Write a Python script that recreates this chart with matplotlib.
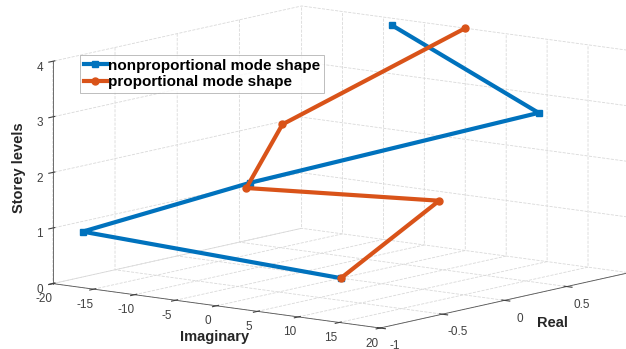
import numpy as np
import matplotlib
matplotlib.use("Agg")
import matplotlib.pyplot as plt

# storey levels (z) and mode shape components
storey = [0, 1, 2, 3, 4]
nonprop_imag = [0, -16.5, -1.5, 15.5, -6.5]
nonprop_real = [0, -0.99, -0.63, 0.57, 0.84]
prop_imag = [0, 0, 0, 0, 0]
prop_real = [0, 0.79, -0.76, -0.47, 1.0]

x_ticks = [-20, -15, -10, -5, 0, 5, 10, 15, 20]
y_ticks = [-1, -0.5, 0, 0.5]
z_ticks = [0, 1, 2, 3, 4]

BLUE = "#0072BD"
ORANGE = "#D95319"


def main():
    plt.rcParams["font.family"] = "Liberation Sans"
    plt.rcParams["grid.linestyle"] = "--"
    plt.rcParams["grid.color"] = "#d9d9d9"
    plt.rcParams["grid.linewidth"] = 0.6

    fig = plt.figure(figsize=(6.26, 3.49), dpi=100)
    ax = fig.add_axes([0.037, 0.008, 1, 1], projection="3d", proj_type="ortho")
    ax.view_init(elev=10, azim=-52)
    ax.set_box_aspect((1.84, 1.79, 1.0), zoom=1.73)

    ax.plot(nonprop_imag, nonprop_real, storey, color=BLUE, lw=3,
            marker="s", ms=5, label="nonproportional mode shape", clip_on=False)
    ax.plot(prop_imag, prop_real, storey, color=ORANGE, lw=3,
            marker="o", ms=5, label="proportional mode shape", clip_on=False)

    ax.set_xlim(-20, 20)
    ax.set_ylim(-1, 1)
    ax.set_zlim(0, 4)
    ax.set_xticks(x_ticks)
    ax.set_yticks(y_ticks)
    ax.set_zticks(z_ticks)
    ax.set_xticklabels([str(t) for t in x_ticks])
    ax.set_yticklabels(["-1", "-0.5", "0", "0.5"])
    ax.set_zticklabels([str(t) for t in z_ticks])
    ax.zaxis.set_ticks_position("lower")

    for axis in (ax.xaxis, ax.yaxis, ax.zaxis):
        axis.set_pane_color((1, 1, 1, 0))
        axis.pane.set_edgecolor("#d9d9d9")
        axis.line.set_color("#555555")
        axis.line.set_linewidth(0.6)
    ax.tick_params(labelsize=8.5, colors="#404040")
    ax.tick_params(axis="z", pad=-5)
    ax.tick_params(axis="x", pad=-3.5)
    ax.tick_params(axis="y", pad=-2)

    fig.text(0.343, 0.035, "Imaginary", ha="center", va="center",
             fontsize=10.5, fontweight="bold", color="#262626")
    fig.text(0.882, 0.075, "Real", ha="center", va="center",
             fontsize=10.5, fontweight="bold", color="#262626")
    fig.text(0.03, 0.52, "Storey levels", ha="center", va="center",
             rotation=90, fontsize=10.5, fontweight="bold", color="#262626")

    leg = fig.legend(loc="upper left", bbox_to_anchor=(0.128, 0.843),
                     prop={"weight": "bold", "size": 11}, fancybox=False,
                     edgecolor="#a0a0a0", borderpad=0.25, labelspacing=0.15,
                     handlelength=1.5, handletextpad=0.1, borderaxespad=0)
    leg.get_frame().set_linewidth(0.6)

    fig.savefig("out.png", dpi=100)


if __name__ == "__main__":
    main()
